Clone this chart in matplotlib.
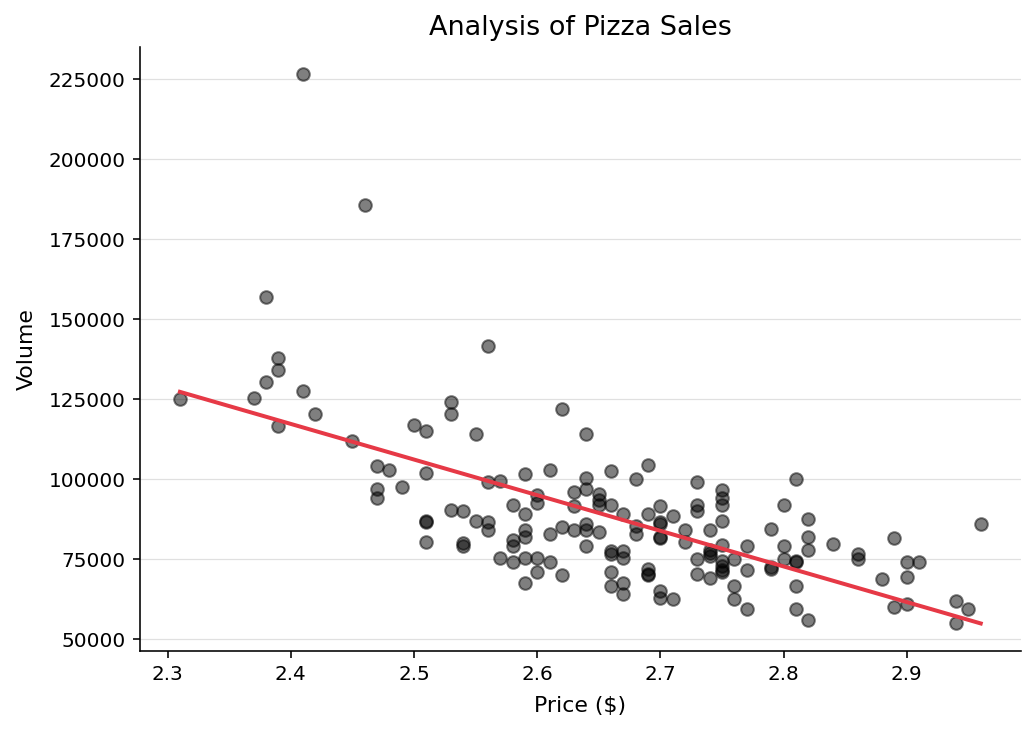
import matplotlib
matplotlib.use("Agg")
import matplotlib.pyplot as plt
import numpy as np

# 価格と販売量
price = [
    2.31, 2.37, 2.38, 2.38, 2.39, 2.39, 2.39, 2.41, 2.41, 2.42,
    2.45, 2.46, 2.47, 2.47, 2.47, 2.48, 2.49, 2.50, 2.51, 2.51,
    2.51, 2.51, 2.51, 2.53, 2.53, 2.53, 2.54, 2.54, 2.54, 2.55,
    2.55, 2.56, 2.56, 2.56, 2.56, 2.57, 2.57, 2.58, 2.58, 2.58,
    2.58, 2.59, 2.59, 2.59, 2.59, 2.59, 2.59, 2.60, 2.60, 2.60,
    2.60, 2.61, 2.61, 2.61, 2.62, 2.62, 2.62, 2.63, 2.63, 2.63,
    2.64, 2.64, 2.64, 2.64, 2.64, 2.64, 2.65, 2.65, 2.65, 2.65,
    2.66, 2.66, 2.66, 2.66, 2.66, 2.66, 2.67, 2.67, 2.67, 2.67,
    2.67, 2.68, 2.68, 2.68, 2.69, 2.69, 2.69, 2.69, 2.69, 2.70,
    2.70, 2.70, 2.70, 2.70, 2.70, 2.70, 2.71, 2.71, 2.72, 2.72,
    2.73, 2.73, 2.73, 2.73, 2.73, 2.74, 2.74, 2.74, 2.74, 2.74,
    2.75, 2.75, 2.75, 2.75, 2.75, 2.75, 2.75, 2.75, 2.75, 2.76,
    2.76, 2.76, 2.77, 2.77, 2.77, 2.79, 2.79, 2.79, 2.80, 2.80,
    2.80, 2.81, 2.81, 2.81, 2.81, 2.81, 2.82, 2.82, 2.82, 2.82,
    2.84, 2.86, 2.86, 2.88, 2.89, 2.89, 2.90, 2.90, 2.90, 2.91,
    2.94, 2.94, 2.95, 2.96,
]
volume = [
    125000, 125500, 130500, 157000, 138000, 134000, 116500, 226500, 127500, 120500,
    112000, 185600, 104000, 97000, 94000, 103000, 97500, 116800, 115000, 102000,
    87000, 86500, 80500, 124000, 120500, 90500, 90000, 80000, 79000, 114000,
    87000, 141500, 99000, 86500, 84000, 99500, 75500, 92000, 81000, 79000,
    74000, 101500, 89000, 84000, 82000, 75500, 67500, 95000, 92500, 75500,
    71000, 103000, 83000, 74000, 122000, 85000, 70000, 96000, 91500, 84000,
    114000, 100500, 97000, 86000, 84000, 79000, 95500, 93500, 92000, 83500,
    102500, 92000, 77500, 76500, 71000, 66500, 89000, 77500, 75500, 67500,
    64000, 100000, 85500, 83000, 104500, 89000, 72000, 70500, 70000, 91500,
    86500, 86000, 82000, 81500, 65000, 63000, 88500, 62500, 84000, 80500,
    99000, 92000, 90000, 75000, 70500, 84000, 78000, 77000, 76000, 69000,
    96500, 94000, 92000, 87000, 79500, 74500, 73000, 71500, 71000, 75000,
    66500, 62500, 79000, 71500, 59500, 84500, 72500, 72000, 92000, 79000,
    75000, 100000, 74500, 74000, 66500, 59500, 87500, 82000, 78000, 56000,
    79700, 76500, 75000, 68700, 81500, 60000, 74000, 69500, 61000, 74000,
    62000, 55000, 59500, 86000,
]

x = np.array(price)
y = np.array(volume)

# 回帰直線
coef = np.polyfit(x, y, 1)
xs = np.array([x.min(), x.max()])

fig, ax = plt.subplots(figsize=(1036 / 144, 733 / 144), dpi=144)
fig.subplots_adjust(left=0.135, right=0.9853, bottom=0.112, top=0.936)

ax.scatter(x, y, color="black", alpha=0.5, s=40, linewidths=1, zorder=3)
ax.plot(xs, np.polyval(coef, xs), color="#e63946", linewidth=2, zorder=4)

ax.set_title("Analysis of Pizza Sales", fontsize=13.5)
ax.set_xlabel("Price ($)", fontsize=11, labelpad=6)
ax.set_ylabel("Volume", fontsize=11, labelpad=6)
ax.tick_params(labelsize=10)

ax.yaxis.grid(True, color="#e0e0e0", linewidth=0.6)
ax.set_axisbelow(True)
ax.spines["top"].set_visible(False)
ax.spines["right"].set_visible(False)

fig.savefig("out.png", dpi=144)
